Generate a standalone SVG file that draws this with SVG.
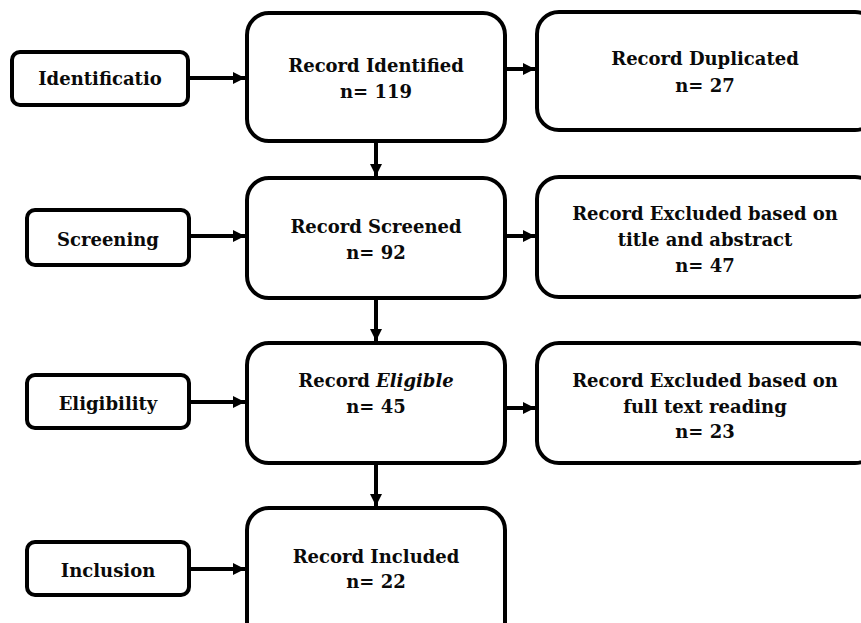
<svg xmlns="http://www.w3.org/2000/svg" width="861" height="623" viewBox="0 0 861 623">
<defs>
<marker id="ah" markerUnits="userSpaceOnUse" markerWidth="12" markerHeight="12" viewBox="0 0 12 12" refX="12" refY="6" orient="auto">
<path d="M0,0 L12,6 L0,12 Z" fill="#000"/>
</marker>
<style>
.box{fill:#fff;stroke:#000;stroke-width:4}
.t{font-family:"DejaVu Serif","Liberation Serif",serif;font-weight:bold;font-size:18px;fill:#0a0a0a;text-anchor:middle}
.c{stroke:#000;stroke-width:4;fill:none;marker-end:url(#ah)}
</style>
</defs>
<rect width="861" height="623" fill="#fff"/>
<g id="identification"><rect class="box" x="12" y="52" width="176" height="53" rx="8"/><text class="t" x="100" y="85">Identificatio</text></g>
<g id="screening"><rect class="box" x="27" y="210" width="162" height="55" rx="8"/><text class="t" x="108" y="246">Screening</text></g>
<g id="eligibility"><rect class="box" x="27" y="375" width="162" height="53" rx="8"/><text class="t" x="108" y="410">Eligibility</text></g>
<g id="inclusion"><rect class="box" x="27" y="542" width="162" height="53" rx="8"/><text class="t" x="108" y="577">Inclusion</text></g>
<g id="identified"><rect class="box" x="247" y="13" width="258" height="128" rx="22"/><text class="t" x="376" y="72">Record Identified</text><text class="t" x="376" y="98">n= 119</text></g>
<g id="duplicated"><rect class="box" x="537" y="12" width="340" height="118" rx="22"/><text class="t" x="705" y="65">Record Duplicated</text><text class="t" x="705" y="92">n= 27</text></g>
<g id="screened"><rect class="box" x="247" y="178" width="258" height="120" rx="22"/><text class="t" x="376" y="233">Record Screened</text><text class="t" x="376" y="259">n= 92</text></g>
<g id="excluded1"><rect class="box" x="537" y="177" width="340" height="120" rx="22"/><text class="t" x="705" y="220">Record Excluded based on</text><text class="t" x="705" y="246">title and abstract</text><text class="t" x="705" y="272">n= 47</text></g>
<g id="eligible"><rect class="box" x="247" y="343" width="258" height="120" rx="22"/><text class="t" x="376" y="387">Record <tspan font-style="italic">Eligible</tspan></text><text class="t" x="376" y="413">n= 45</text></g>
<g id="excluded2"><rect class="box" x="537" y="343" width="340" height="120" rx="22"/><text class="t" x="705" y="387">Record Excluded based on</text><text class="t" x="705" y="413">full text reading</text><text class="t" x="705" y="438">n= 23</text></g>
<g id="included"><rect class="box" x="247" y="508" width="258" height="140" rx="22"/><text class="t" x="376" y="563">Record Included</text><text class="t" x="376" y="588">n= 22</text></g>
<g id="connectors">
<line class="c" x1="188" y1="78" x2="245" y2="78"/>
<line class="c" x1="189" y1="236" x2="245" y2="236"/>
<line class="c" x1="189" y1="402" x2="245" y2="402"/>
<line class="c" x1="189" y1="569" x2="245" y2="569"/>
<line class="c" x1="505" y1="69" x2="535" y2="69"/>
<line class="c" x1="505" y1="236" x2="535" y2="236"/>
<line class="c" x1="505" y1="408" x2="535" y2="408"/>
<line class="c" x1="376" y1="141" x2="376" y2="176"/>
<line class="c" x1="376" y1="298" x2="376" y2="341"/>
<line class="c" x1="376" y1="463" x2="376" y2="506"/>
</g>
</svg>
